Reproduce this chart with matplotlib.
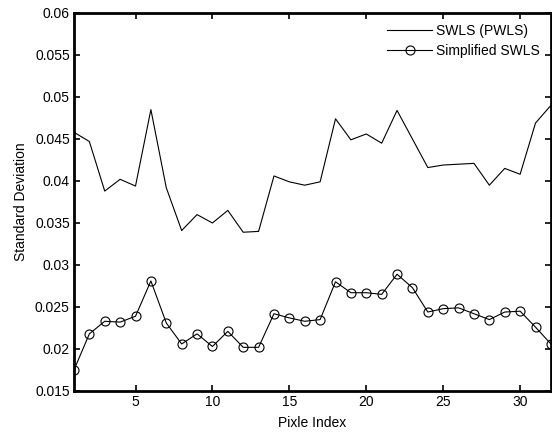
import numpy as np
import matplotlib
matplotlib.use('Agg')
from matplotlib import pyplot as plt

plt.rcParams['font.family'] = ['Liberation Sans', 'DejaVu Sans']

pixel_index = np.arange(1, 33)
swls_pwls = [0.0458, 0.0447, 0.0388, 0.0402, 0.0394, 0.0485, 0.0392, 0.0341,
             0.0360, 0.0350, 0.0365, 0.0339, 0.0340, 0.0406, 0.0399, 0.0395,
             0.0399, 0.0474, 0.0449, 0.0456, 0.0445, 0.0484, 0.0450, 0.0416,
             0.0419, 0.0420, 0.0421, 0.0395, 0.0415, 0.0408, 0.0469, 0.0490]
simplified_swls = [0.0175, 0.0218, 0.0233, 0.0232, 0.0239, 0.0281, 0.0231, 0.0206,
                   0.0218, 0.0203, 0.0221, 0.0202, 0.0202, 0.0242, 0.0237, 0.0233,
                   0.0235, 0.0280, 0.0267, 0.0267, 0.0265, 0.0289, 0.0273, 0.0244,
                   0.0248, 0.0249, 0.0242, 0.0235, 0.0244, 0.0245, 0.0226, 0.0206]

fig = plt.figure(figsize=(5.52, 4.33), dpi=100)
ax = fig.add_axes([0.134, 0.097, 0.864, 0.873])

ax.plot(pixel_index, swls_pwls, color='black', linewidth=0.8, label='SWLS (PWLS)')
ax.plot(pixel_index, simplified_swls, color='black', linewidth=0.8, marker='o',
        markersize=6.5, markerfacecolor='none', markeredgewidth=0.8,
        label='Simplified SWLS')

ax.set_xlim(1, 32)
ax.set_ylim(0.015, 0.06)
ax.set_xticks([5, 10, 15, 20, 25, 30])
ax.set_yticks(np.arange(0.015, 0.0601, 0.005))
ax.set_yticklabels(['0.015', '0.02', '0.025', '0.03', '0.035', '0.04',
                    '0.045', '0.05', '0.055', '0.06'])
ax.tick_params(direction='in', top=True, right=True, labelsize=10, length=4,
               width=1.2, pad=3)
for s in ax.spines.values():
    s.set_linewidth(2)

ax.set_xlabel('Pixle Index', fontsize=10, labelpad=5)
ax.set_ylabel('Standard Deviation', fontsize=10, labelpad=5)

ax.legend(loc='upper right', frameon=False, fontsize=10, handlelength=3.2,
          handletextpad=0.3, borderaxespad=0.4, labelspacing=0.45)

fig.savefig('out.png', dpi=100)
